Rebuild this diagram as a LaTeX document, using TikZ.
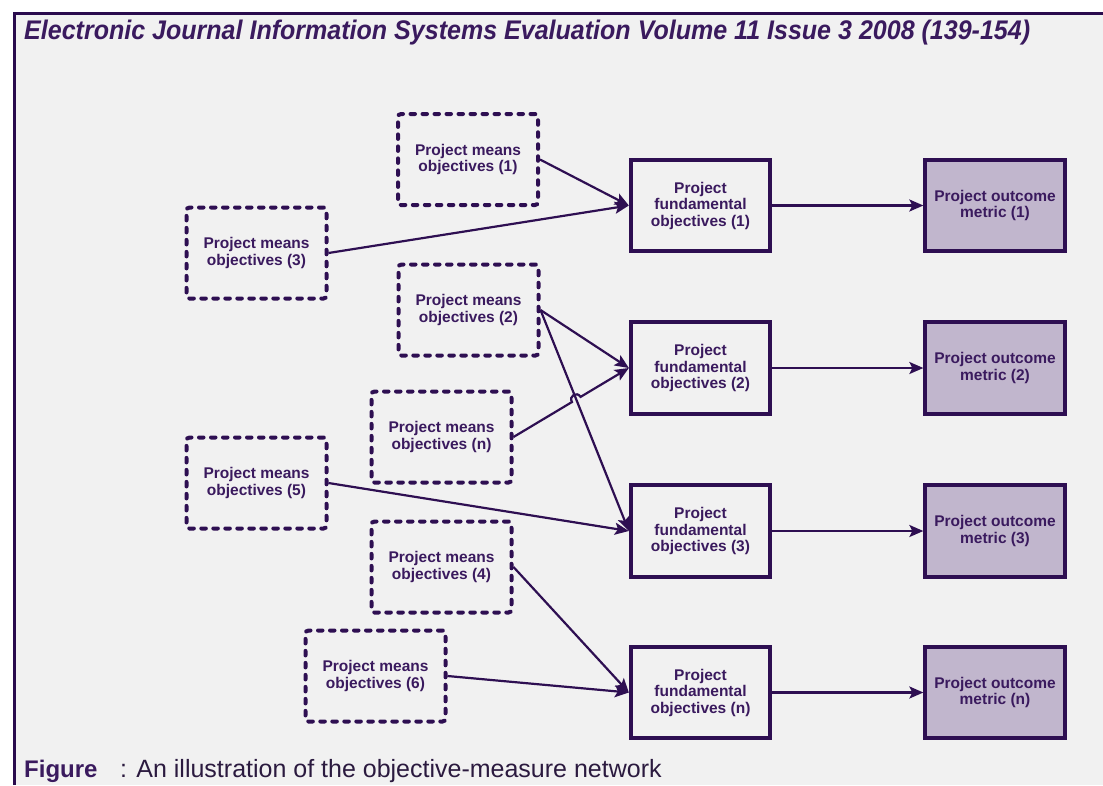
\documentclass[tikz,border=0pt]{standalone}
\usepackage{fontspec}
\setmainfont{Liberation Sans}
\usetikzlibrary{arrows.meta,calc,intersections}
\definecolor{pagebg}{HTML}{F1F1F1}
\definecolor{rulecol}{HTML}{2A0B4D}
\definecolor{ink}{HTML}{3A1A5E}
\definecolor{capink}{HTML}{2B1A3F}
\definecolor{boxline}{HTML}{2E0F52}
\definecolor{metricfill}{HTML}{C1B6CD}
\begin{document}
\begin{tikzpicture}[x=1pt,y=-1pt,
  boxtext/.style={text=ink, font=\fontsize{15.5}{16.5}\selectfont\bfseries,
    align=center, inner sep=0pt},
  meansbox/.style={boxtext, draw=boxline, line width=4pt,
    dash pattern=on 4.5pt off 7.5pt, line cap=round, rounded corners=3pt,
    minimum width=140pt, minimum height=91pt},
  fundbox/.style={boxtext, draw=boxline, line width=3.8pt,
    minimum width=139.5pt, minimum height=91.5pt},
  metricbox/.style={fundbox, fill=metricfill},
  conn/.style={draw=boxline, line width=2.2pt, line cap=butt,
    -{Stealth[length=14pt,width=12pt,inset=3pt]}}]

\useasboundingbox (0,0) rectangle (1103,785);

% page background and frame rules
\fill[white] (0,0) rectangle (1103,785);
\fill[pagebg] (14,13) rectangle (1103,785);
\draw[rulecol, line width=3pt] (14,785) -- (14,13) -- (1103,13);

% running head, set in a condensed bold italic
\node[anchor=base west, inner sep=0pt, text=ink] (title) at (24,39)
  {\resizebox{1006pt}{19.5pt}{\fontsize{25}{25}\selectfont\bfseries\itshape
   Electronic Journal Information Systems Evaluation Volume 11 Issue 3 2008 (139-154)}};

% means objectives
\node[meansbox] (m1) at (468,159.5) {Project means\\objectives (1)};
\node[meansbox] (m3) at (256.5,253) {Project means\\objectives (3)};
\node[meansbox] (m2) at (468.5,310) {Project means\\objectives (2)};
\node[meansbox] (mn) at (441.5,437) {Project means\\objectives (n)};
\node[meansbox] (m5) at (256.5,483) {Project means\\objectives (5)};
\node[meansbox] (m4) at (441.5,567) {Project means\\objectives (4)};
\node[meansbox] (m6) at (375.5,676) {Project means\\objectives (6)};

% fundamental objectives
\node[fundbox] (f1) at (700.5,205.5) {Project\\fundamental\\objectives (1)};
\node[fundbox] (f2) at (700.5,368) {Project\\fundamental\\objectives (2)};
\node[fundbox] (f3) at (700.5,531) {Project\\fundamental\\objectives (3)};
\node[fundbox] (fn) at (700.5,692.5) {Project\\fundamental\\objectives (n)};

% outcome metrics
\node[metricbox] (o1) at (995,205.5) {Project outcome\\metric (1)};
\node[metricbox] (o2) at (995,368) {Project outcome\\metric (2)};
\node[metricbox] (o3) at (995,531) {Project outcome\\metric (3)};
\node[metricbox] (on) at (995,692.5) {Project outcome\\metric (n)};

% connectors
\draw[conn] (m1.east) -- (f1.west);
\draw[conn] (m3.east) -- (f1.west);
\draw[conn] (m2.east) -- (f2.west);
\draw[conn, name path=crossline] (m2.east) -- (f3.west);
\path[name path=hopline] (mn.east) -- (f2.west);
\path[name intersections={of=hopline and crossline, by=cx}];
\coordinate (h1) at ($(cx)!5pt!(mn.east)$);
\coordinate (h2) at ($(cx)!5pt!(f2.west)$);
\coordinate (c1) at ($(h1)!7pt!90:(cx)$);
\coordinate (c2) at ($(h2)!7pt!-90:(cx)$);
\draw[conn] (mn.east) -- (h1) .. controls (c1) and (c2) .. (h2) -- (f2.west);
\draw[conn] (m5.east) -- (f3.west);
\draw[conn] (m4.east) -- (fn.west);
\draw[conn] (m6.east) -- (fn.west);
\draw[conn] (f1.east) -- (o1.west);
\draw[conn] (f2.east) -- (o2.west);
\draw[conn] (f3.east) -- (o3.west);
\draw[conn] (fn.east) -- (on.west);

% caption
\node[anchor=base west, inner sep=0pt, text=ink,
  font=\fontsize{24}{24}\selectfont\bfseries] (figlabel) at (24,777) {Figure};
\node[anchor=base west, inner sep=0pt, text=capink,
  font=\fontsize{25}{25}\selectfont] (figtext) at (120,777)
  {: An illustration of the objective-measure network};
\end{tikzpicture}
\end{document}
